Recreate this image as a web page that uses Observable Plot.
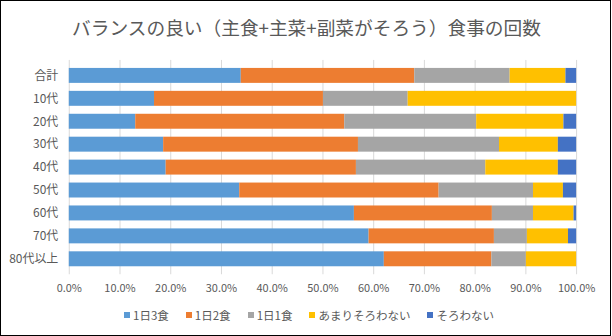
<!DOCTYPE html>
<html>
<head>
<meta charset="utf-8">
<script src="https://cdn.jsdelivr.net/npm/d3@7"></script>
<script src="https://cdn.jsdelivr.net/npm/@observablehq/plot@0.6"></script>
<style>
  html, body { margin: 0; padding: 0; background: #fff; }
  #frame {
    position: relative; width: 611px; height: 336px; box-sizing: border-box;
    border: 1px solid #000; background: #fff; overflow: hidden;
    font-family: "Noto Sans CJK JP", "Noto Sans", sans-serif;
  }
  #title {
    position: absolute; left: 0; top: 14px; width: 611px; text-align: center;
    font-size: 18.7px; line-height: 24px; color: #595959;
  }
  #chart { position: absolute; left: -1px; top: 44px; line-height: 0; }
  #legend {
    position: absolute; left: 0; top: 306px; width: 616px;
    display: flex; justify-content: center; align-items: center;
    font-size: 11.5px; color: #595959; line-height: 16px;
  }
  .item { display: flex; align-items: center; margin: 0 8.5px; }
  .sw { width: 6px; height: 6px; margin-right: 3px; }
</style>
</head>
<body>
<div id="frame">
  <div id="title">バランスの良い（主食+主菜+副菜がそろう）食事の回数</div>
  <div id="chart"></div>
  <div id="legend"></div>
</div>
<script>
const ages = ["合計", "10代", "20代", "30代", "40代", "50代", "60代", "70代", "80代以上"];
const seriesNames = ["1日3食", "1日2食", "1日1食", "あまりそろわない", "そろわない"];
const seriesColors = ["#5B9BD5", "#ED7D31", "#A5A5A5", "#FFC000", "#4472C4"];
const threeMeals  = [33.9, 16.8, 13.1, 18.6, 19.1, 33.6, 56.2, 59.1, 62.1];
const twoMeals    = [34.2, 33.3, 41.2, 38.4, 37.5, 39.3, 27.2, 24.7, 21.2];
const oneMeal     = [18.8, 16.7, 26.0, 27.8, 25.5, 18.6,  8.1,  6.5,  6.8];
const rarely      = [11.0, 33.2, 17.2, 11.6, 14.3,  5.9,  8.0,  8.1,  9.9];
const never       = [ 2.1,  0.0,  2.5,  3.6,  3.6,  2.6,  0.5,  1.6,  0.0];
const xTicks = [0, 10, 20, 30, 40, 50, 60, 70, 80, 90, 100];

const seriesValues = [threeMeals, twoMeals, oneMeal, rarely, never];
const data = [];
ages.forEach((age, i) => {
  seriesNames.forEach((s, j) => {
    data.push({age, series: s, value: seriesValues[j][i]});
  });
});

const chart = Plot.plot({
  width: 612,
  height: 256,
  marginTop: 15,
  marginBottom: 26,
  marginLeft: 69,
  marginRight: 34,
  style: {fontFamily: '"Noto Sans CJK JP", "Noto Sans", sans-serif', fontSize: "11px", color: "#595959", background: "transparent"},
  x: {domain: [0, 100], ticks: xTicks, tickFormat: d => d.toFixed(1) + "%", label: null, tickSize: 0, tickPadding: 9},
  y: {domain: ages, label: null, paddingInner: 0.33, paddingOuter: 0.165, tickSize: 0, tickPadding: 11},
  color: {domain: seriesNames, range: seriesColors},
  marks: [
    Plot.gridX(xTicks, {stroke: "#d9d9d9", strokeOpacity: 1, strokeWidth: 1}),
    Plot.barX(data, {y: "age", x: "value", fill: "series", order: seriesNames}),
    Plot.axisY({tickSize: 0, tickPadding: 11, fontSize: 12, label: null}),
    Plot.axisX({ticks: xTicks, tickFormat: d => d.toFixed(1) + "%", tickSize: 0, tickPadding: 9, label: null})
  ]
});
document.getElementById("chart").appendChild(chart);

const legend = document.getElementById("legend");
seriesNames.forEach((s, j) => {
  const item = document.createElement("div");
  item.className = "item";
  const sw = document.createElement("div");
  sw.className = "sw";
  sw.style.background = seriesColors[j];
  const t = document.createElement("span");
  t.textContent = s;
  item.appendChild(sw);
  item.appendChild(t);
  legend.appendChild(item);
});
</script>
</body>
</html>
